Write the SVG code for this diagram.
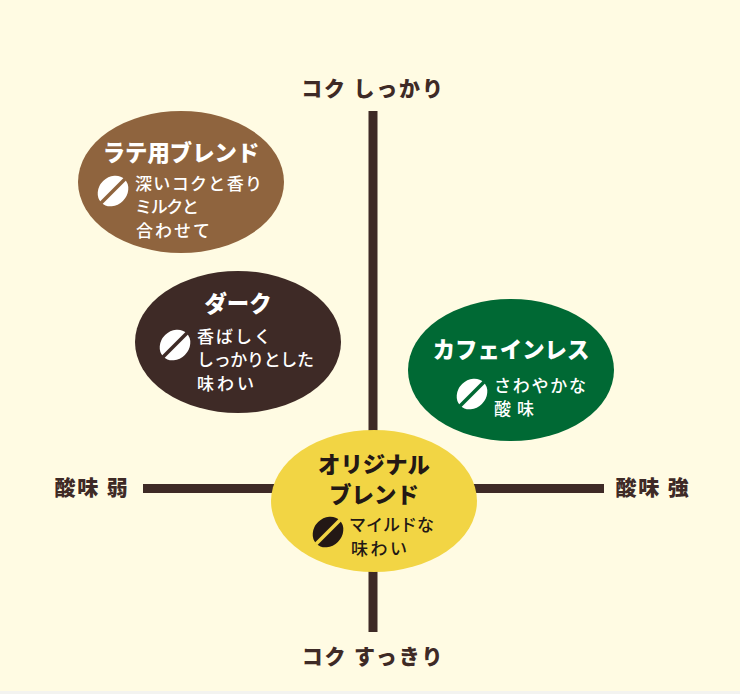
<svg xmlns="http://www.w3.org/2000/svg" width="740" height="694" viewBox="0 0 740 694">
<style>
text{font-family:"Noto Sans CJK JP","Noto Sans",sans-serif}
.ax{font-size:21px;font-weight:900;fill:#3e2a26;text-anchor:middle;letter-spacing:1.8px}
.t{font-size:22.400px;font-weight:900;text-anchor:middle}
.s{font-size:17px;font-weight:500}
.w{fill:#fff}
.k{fill:#231815}
</style>
<defs>
<g id="bean"><ellipse cx="0" cy="0" rx="14" ry="16.500" transform="rotate(45)"/></g>
</defs>
<rect width="740" height="694" fill="#fffbe3"/>
<rect y="691" width="740" height="3" fill="#f3f3f0"/>
<g id="connectors" stroke="#3e2a26" stroke-width="9" fill="none">
<path d="M373 111V632"/>
<path d="M143 488.500H604"/>
</g>
<g id="axis-labels">
<text class="ax" x="373" y="96">コク しっかり</text>
<text class="ax" x="373" y="664">コク すっきり</text>
<text class="ax" x="92" y="495">酸味 弱</text>
<text class="ax" x="653" y="495">酸味 強</text>
</g>
<g id="latte">
<ellipse cx="181" cy="182" rx="103" ry="71" fill="#8f643e"/>
<text class="t w" x="181" y="161">ラテ用ブレンド</text>
<use href="#bean" x="113" y="191" fill="#fff"/>
<path d="M101 203L125 179" stroke="#8f643e" stroke-width="3.500"/>
<text class="s w" x="135" y="190" textLength="127">深いコクと香り</text>
<text class="s w" x="135" y="213" textLength="64">ミルクと</text>
<text class="s w" x="136" y="237" textLength="74">合わせて</text>
</g>
<g id="dark">
<ellipse cx="238" cy="342" rx="103" ry="71" fill="#3e2a26"/>
<text class="t w" x="238" y="312">ダーク</text>
<use href="#bean" x="175" y="345" fill="#fff"/>
<path d="M163 357L187 333" stroke="#3e2a26" stroke-width="3.500"/>
<text class="s w" x="197" y="343" textLength="74">香ばしく</text>
<text class="s w" x="197" y="366" textLength="117">しっかりとした</text>
<text class="s w" x="197" y="390" textLength="57">味わい</text>
</g>
<g id="decaf">
<ellipse cx="511" cy="370" rx="103" ry="71" fill="#006934"/>
<text class="t w" x="511" y="358">カフェインレス</text>
<use href="#bean" x="472" y="394" fill="#fff"/>
<path d="M460 406L484 382" stroke="#006934" stroke-width="3.500"/>
<text class="s w" x="494" y="392" textLength="92">さわやかな</text>
<text class="s w" x="494" y="415" textLength="40">酸味</text>
</g>
<g id="original">
<ellipse cx="374" cy="501" rx="103" ry="71" fill="#f2d544"/>
<text class="t k" x="374" y="473">オリジナル</text>
<text class="t k" x="374" y="503">ブレンド</text>
<use href="#bean" x="328" y="532" fill="#231815"/>
<path d="M316 544L340 520" stroke="#f2d544" stroke-width="3.500"/>
<text class="s k" x="349" y="531" textLength="85">マイルドな</text>
<text class="s k" x="351" y="555" textLength="56">味わい</text>
</g>
</svg>
